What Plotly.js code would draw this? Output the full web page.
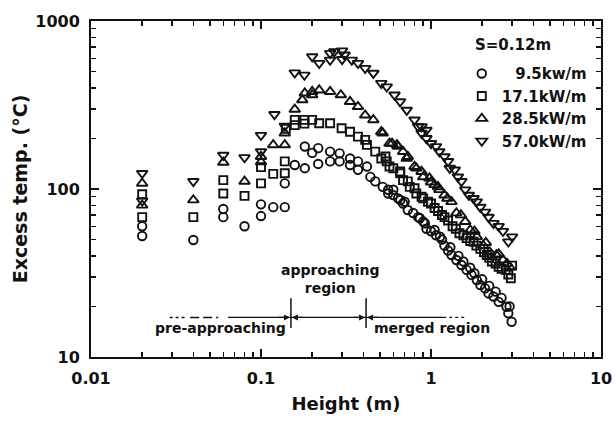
<!DOCTYPE html>
<html><head><meta charset="utf-8">
<script src="https://cdn.plot.ly/plotly-3.0.1.min.js"></script>
<style>html,body{margin:0;padding:0;background:#fff}</style>
</head><body>
<div id="chart" style="width:616px;height:421px"></div>
<script>
// ---- tick labels ----
const xTickVals = [0.01, 0.1, 1, 10];
const xTickText = ['0.01', '0.1', '1', '10'];
const yTickVals = [10, 100, 1000];
const yTickText = ['10', '100', '1000'];

// ---- series ----
const seriesNames = ['\u2007\u20099.5kw/m', '17.1kW/m', '28.5kW/m', '57.0kW/m'];
const seriesSymbols = ['circle-open', 'square-open', 'triangle-up-open', 'triangle-down-open'];

const h95 = [0.02,0.02,0.04,0.06,0.06,0.08,0.1,0.1,0.118,0.138,0.138,0.158,0.181,0.181,0.2,0.217,0.217,0.255,0.255,0.29,0.29,0.334,0.334,0.372,0.372,0.42,0.44,0.47,0.52,0.56,0.56,0.6,0.6,0.64,0.66,0.685,0.7,0.73,0.785,0.84,0.86,0.9,0.92,0.94,1.0,1.05,1.07,1.13,1.16,1.2,1.26,1.3,1.32,1.41,1.45,1.51,1.55,1.62,1.7,1.73,1.8,1.86,1.95,2.0,2.08,2.18,2.2,2.33,2.4,2.5,2.6,2.78,2.85,2.9,2.98];
const t95 = [52.5,60,49.7,68,76,60,69,81,78,78,108,139,133,179,164,175,141,167,146,163,146,152,139,146,130,136,118,111,103,94,99,99,92,88,86,82,84,75,72,68,67,64,62.5,58,56,57,53,52,50,46,43,45,40.5,37.8,40,35.3,37,33,34,30.8,31.5,28.7,26.8,29,25.6,23.9,26.5,22.9,24.5,21.3,22.5,19.9,18.2,20,16.2];

const h171 = [0.02,0.02,0.04,0.06,0.06,0.08,0.1,0.1,0.118,0.138,0.138,0.14,0.158,0.158,0.18,0.18,0.2,0.22,0.255,0.298,0.334,0.372,0.41,0.42,0.47,0.51,0.54,0.549,0.57,0.6,0.658,0.66,0.685,0.73,0.75,0.8,0.82,0.88,0.9,0.96,1.0,1.05,1.1,1.16,1.2,1.26,1.34,1.4,1.47,1.55,1.62,1.7,1.78,1.85,1.95,2.05,2.13,2.2,2.28,2.4,2.5,2.6,2.75,2.85,2.95,3.0];
const t171 = [68,93,68,94,113,91,108,135,123,124,146,228,258,240,258,245,258,246,246,230,219,205,196,183,167,152,156,146,136,133,127,124,113,111,103,101,94,90,88,84,82,77,74,70,68,65,60,58,54.5,53,51,49,48.5,46,44,42,40.5,39,37,36,34.4,33.5,33,31,29.4,35];

const h285 = [0.02,0.02,0.04,0.06,0.08,0.1,0.1,0.118,0.138,0.138,0.158,0.175,0.181,0.2,0.2,0.22,0.255,0.295,0.334,0.372,0.41,0.458,0.51,0.52,0.57,0.59,0.63,0.64,0.685,0.72,0.73,0.8,0.82,0.88,0.9,0.98,1.0,1.05,1.1,1.12,1.2,1.25,1.32,1.41,1.5,1.59,1.7,1.8,1.86,2.03,2.1,2.22,2.42,2.5,2.65,2.8,2.9];
const t285 = [80,108,86,144,111,145,156,183,183,215,298,339,372,380,363,388,380,363,331,309,275,258,219,215,187,187,183,179,167,152,156,136,133,127,118,116,110,106,103,99,92,88,84,72,70,64,57,56,52,46,48,42,40.5,41,37.8,36,34.4];

const h570 = [0.02,0.02,0.04,0.06,0.08,0.1,0.1,0.12,0.138,0.158,0.18,0.2,0.22,0.255,0.255,0.27,0.3,0.3,0.31,0.342,0.372,0.41,0.458,0.51,0.549,0.61,0.658,0.72,0.8,0.84,0.88,0.88,0.94,0.94,1.0,1.07,1.12,1.2,1.26,1.29,1.38,1.44,1.51,1.59,1.67,1.78,1.86,1.95,2.08,2.18,2.33,2.5,2.65,2.85,3.0];
const t570 = [85,124,111,159,154,167,209,278,237,492,477,614,560,643,586,657,665,591,628,586,560,523,489,426,406,363,331,295,258,235,235,215,224,200,187,179,167,156,146,133,130,118,111,99,92,88,84,78,73,68,62.5,60,56,48.5,52];

// ---- region annotation (height boundaries, m) ----
const regionBounds = [0.15, 0.415];
const regionLabels = ['pre-approaching', 'approaching<br>region', 'merged region'];

// ---- styling ----
const INK = '#111';
const FONT = 'DejaVu Sans';
const L = Math.log10;

const heights = [h95, h171, h285, h570];
const temps = [t95, t171, t285, t570];
const msize = [8.5, 8, 9.5, 9.5];

const traces = heights.map((h, i) => ({
  x: h, y: temps[i], type: 'scatter', mode: 'markers', name: seriesNames[i],
  marker: {symbol: seriesSymbols[i], size: msize[i], color: INK, line: {color: INK, width: 1.9}},
  cliponaxis: false
}));

const lineY = 17.2;
const seg = (x, dash, w) => ({x: x, y: x.map(() => lineY), type: 'scatter', mode: 'lines',
  line: {color: INK, width: w, dash: dash}, showlegend: false, hoverinfo: 'skip'});
traces.push(seg([0.029, 0.0365], 'dot', 1.5));
traces.push(seg([0.0383, 0.056], '9px,4px', 1.5));
traces.push(seg([0.064, 1.18], 'solid', 1.3));
traces.push(seg([1.18, 1.63], 'dot', 1.2));
regionBounds.forEach(b => traces.push({x: [b, b], y: [14.9, 22.4], type: 'scatter', mode: 'lines',
  line: {color: INK, width: 1.5}, showlegend: false, hoverinfo: 'skip'}));

const annotations = [];
regionBounds.forEach(b => {
  [-14, 14].forEach(ax => annotations.push({x: L(b), y: L(lineY), xref: 'x', yref: 'y', ax: ax, ay: 0,
    showarrow: true, arrowhead: 2, arrowsize: 1, arrowwidth: 1.2, arrowcolor: INK, standoff: 1, text: ''}));
});
const tfont = {family: FONT, size: 14, color: INK, weight: 'bold'};
annotations.push({x: L(0.0574), y: L(14.9), xref: 'x', yref: 'y', text: regionLabels[0], showarrow: false, font: tfont});
annotations.push({x: L(0.255), y: L(29.1), xref: 'x', yref: 'y', text: regionLabels[1], showarrow: false, font: tfont});
annotations.push({x: L(1.01), y: L(14.9), xref: 'x', yref: 'y', text: regionLabels[2], showarrow: false, font: tfont});
annotations.push({x: 0.749, y: 0.929, xref: 'paper', yref: 'paper', xanchor: 'left', yanchor: 'middle',
  text: 'S=0.12m', showarrow: false, font: {family: FONT, size: 15, color: INK, weight: 'bold'}});

function minorVals(lo, hi) {
  const v = [];
  for (let d = lo; d < hi; d++) for (let k = 2; k <= 9; k++) v.push(k * Math.pow(10, d));
  return v;
}

const axisCommon = {
  type: 'log', showgrid: false, zeroline: false,
  ticks: 'inside', ticklen: 8, tickwidth: 2, tickcolor: INK,
  showline: true, linecolor: INK, linewidth: 2, mirror: 'allticks',
  tickfont: {family: FONT, size: 16, color: INK, weight: 'bold'}
};

const layout = {
  width: 616, height: 421,
  margin: {l: 91, r: 15, t: 21, b: 64},
  paper_bgcolor: '#fff', plot_bgcolor: '#fff',
  showlegend: true,
  legend: {x: 0.727, y: 0.892, xanchor: 'left', yanchor: 'top', bgcolor: 'rgba(0,0,0,0)',
    font: {family: FONT, size: 15, color: INK, weight: 'bold'}, tracegroupgap: 0, itemwidth: 30},
  xaxis: Object.assign({}, axisCommon, {
    range: [-2, 1], tickvals: xTickVals, ticktext: xTickText, ticklabelstandoff: 6,
    minor: {tickvals: minorVals(-2, 1), ticks: 'inside', ticklen: 5, tickwidth: 1.5, tickcolor: INK, showgrid: false},
    title: {text: 'Height (m)', standoff: 10, font: {family: FONT, size: 18, color: INK, weight: 'bold'}}
  }),
  yaxis: Object.assign({}, axisCommon, {
    range: [1, 3], tickvals: yTickVals, ticktext: yTickText, ticklabelstandoff: 6,
    minor: {tickvals: minorVals(1, 3), ticks: 'inside', ticklen: 5, tickwidth: 1.5, tickcolor: INK, showgrid: false},
    title: {text: 'Excess temp. (°C)', standoff: 3, font: {family: FONT, size: 19, color: INK, weight: 'bold'}}
  }),
  annotations: annotations
};

Plotly.newPlot('chart', traces, layout, {staticPlot: true, displayModeBar: false});
</script>
</body></html>
